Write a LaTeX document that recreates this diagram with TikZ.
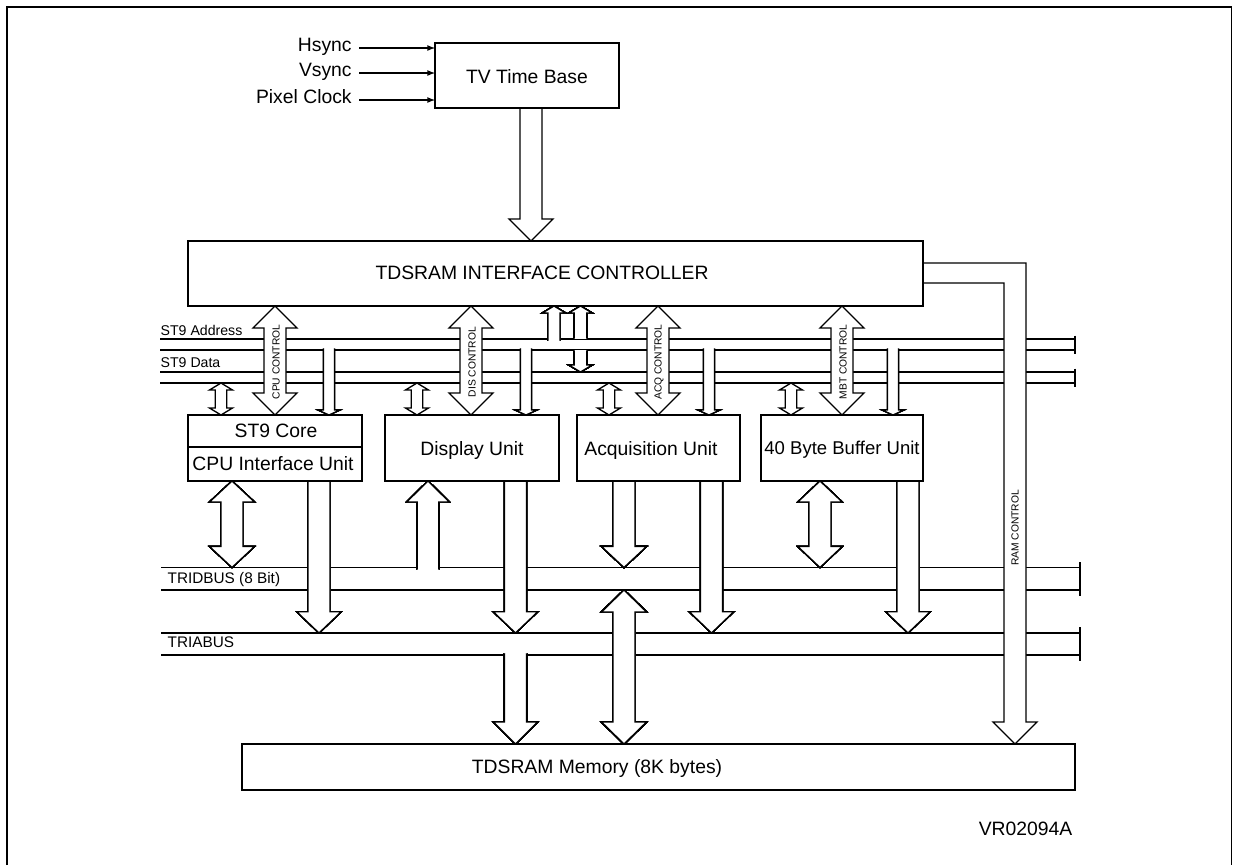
\documentclass[tikz,border=0pt]{standalone}
\usepackage{fontspec}
\setmainfont{Liberation Sans}
\usepackage{tikz}
\usetikzlibrary{arrows,calc}

% fat bus arrows: x, start y, tip y, shaft half width, head half width, head length
\newcommand{\fatdown}[6]{\filldraw[fill=white] ({#1-#4},#2) -- ({#1-#4},{#3-#6}) -- ({#1-#5},{#3-#6}) -- (#1,#3) -- ({#1+#5},{#3-#6}) -- ({#1+#4},{#3-#6}) -- ({#1+#4},#2);}
\newcommand{\fatup}[6]{\filldraw[fill=white] ({#1-#4},#2) -- ({#1-#4},{#3+#6}) -- ({#1-#5},{#3+#6}) -- (#1,#3) -- ({#1+#5},{#3+#6}) -- ({#1+#4},{#3+#6}) -- ({#1+#4},#2);}
% double headed: x, top tip y, bottom tip y, shaft half width, head half width, head length
\newcommand{\fatboth}[6]{\filldraw[fill=white] (#1,#2) -- ({#1+#5},{#2+#6}) -- ({#1+#4},{#2+#6}) -- ({#1+#4},{#3-#6}) -- ({#1+#5},{#3-#6}) -- (#1,#3) -- ({#1-#5},{#3-#6}) -- ({#1-#4},{#3-#6}) -- ({#1-#4},{#2+#6}) -- ({#1-#5},{#2+#6}) -- cycle;}

\begin{document}
\begin{tikzpicture}[x=0.75pt, y=-0.75pt, line width=1pt, >=latex,
  font=\fontsize{14.5}{17}\selectfont,
  buslbl/.style={font=\fontsize{10.6}{12}\selectfont, anchor=west, inner sep=0},
  trilbl/.style={font=\fontsize{11.5}{13}\selectfont, anchor=west, inner sep=0},
  ctllbl/.style={font=\fontsize{7.7}{9}\selectfont, rotate=90, inner sep=0}]
\useasboundingbox (0,0) rectangle (1233,865);
% Frame
\draw[line width=1.3pt] (7,865) -- (7,7) -- (1231.5,7) -- (1231.5,865);
% Inputs
\coordinate (tvw) at (435,75);
\foreach \y/\lbl [count=\i] in {48/Hsync,73/Vsync,100/Pixel Clock} {
  \node[anchor=mid east, inner xsep=5pt, inner ysep=0] (in\i) at (359,\y) {\lbl};
  \draw[->] (in\i.mid east) -- (in\i.mid east -| tvw);
}
% ST9 buses
\foreach \y in {339,350,372,383} \draw (160,\y) -- (1075,\y);
\draw[line width=1.4pt] (1075,335.5) -- (1075,353.5) (1075,368.5) -- (1075,386.5);
\node[buslbl] (adr) at (160,330) {ST9 Address};
\node[buslbl] (dat) at (160,363) {ST9 Data};
% TRI buses
\foreach \y in {567.5,590,633,655} \draw (161,\y) -- (1080,\y);
\draw[line width=1.4pt] (1080,562) -- (1080,596) (1080,627) -- (1080,661);
\node[trilbl] (tridbus) at (167,580) {TRIDBUS (8 Bit)};
\node[trilbl] (triabus) at (167,642) {TRIABUS};
% RAM control
\filldraw[fill=white] (923,263) -- (1026,263) -- (1026,722) -- (1037,722) -- (1015,744) -- (993,722) -- (1004,722) -- (1004,283) -- (923,283);
\node[ctllbl] (ramc) at (1015,528) {RAM CONTROL};
% Time base to controller
\fatdown{531}{108}{241}{11}{22}{22}
% Controller to units
\foreach \x/\lbl in {275/CPU,471/DIS,658/ACQ,842/MBT} {
  \fatboth{\x}{306}{415}{11}{22}{22}
  \node[ctllbl] (\lbl) at (\x+1,362) {\lbl\ CONTROL};
}
\foreach \x in {221,417,609,791} \fatboth{\x}{383}{415}{5.8}{11.5}{7}
\foreach \x in {329,526,709,893} \fatdown{\x}{348.5}{415}{5.5}{11}{5}
\fatup{554}{340.5}{306}{6}{11.7}{7}
\fatup{580.5}{338.3}{306}{6.2}{11.7}{7}
\fatdown{580.5}{350.7}{372}{6.2}{11.7}{7}
% Units to TRI buses
\fatboth{232}{481}{567.5}{11}{22.5}{21}
\fatboth{820}{481}{567.5}{11}{22.2}{21}
\foreach \x in {319,515.5,711.5,908} \fatdown{\x}{481}{633}{11}{22.3}{21.3}
\fatdown{624}{481}{567.5}{11}{22.5}{21}
\fatup{428}{569}{481}{10.7}{21.3}{21}
% TRI buses to memory
\fatboth{624}{590}{744}{11}{22.5}{22}
\fatdown{515.5}{653.5}{744}{11}{22}{22}
% TV Time Base
\draw (435,43) rectangle (619,108);
\node (tvb) at (527,77) {TV Time Base};
% Controller
\draw (188,241) rectangle (923,306);
\node (ctrl) at (542,273) {TDSRAM INTERFACE CONTROLLER};
% Units
\draw (188,415) rectangle (362,481);
\draw (188,447) -- (362,447);
\node (core) at (276,431) {ST9 Core};
\node (cpuif) at (273,464) {CPU Interface Unit};
\draw (385,415) rectangle (559,481);
\node (disp) at (472,450) {Display Unit};
\draw (577,415) rectangle (740,481);
\node (acq) at (651,450) {Acquisition Unit};
\draw (761,415) rectangle (923,481);
\node[font=\fontsize{13.9}{16}\selectfont] (mbb) at (842,450) {40 Byte Buffer Unit};
% Memory
\draw (242,744) rectangle (1075,790);
\node (mem) at (597,768) {TDSRAM Memory (8K bytes)};
\node[anchor=east, inner sep=0] (ref) at (1073,829) {VR02094A};
\end{tikzpicture}
\end{document}
